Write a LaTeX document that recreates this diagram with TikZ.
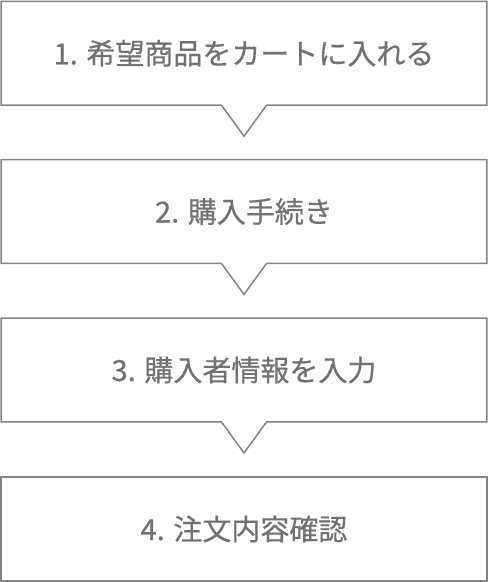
\documentclass[tikz,border=0pt]{standalone}
\usepackage{fontspec}
\newfontfamily\cjk[FakeBold=0.5]{Noto Sans CJK JP}
\definecolor{linegray}{HTML}{858585}
\definecolor{textgray}{HTML}{727272}
\begin{document}
\begin{tikzpicture}[x=1pt,y=-1pt,
  stepbox/.style={minimum width=485.5pt,minimum height=103.5pt,inner sep=0pt,
    font=\cjk\fontsize{29}{34}\selectfont,text=textgray},
  outline/.style={draw=linegray,line width=1.5pt,line join=miter}]
\useasboundingbox (0,0) rectangle (488,582);
\node[stepbox] (b1) at (244,53.25) {1. 希望商品をカートに入れる};
\node[stepbox] (b2) at (244,211.5) {2. 購入手続き};
\node[stepbox] (b3) at (244,370) {3. 購入者情報を入力};
\node[stepbox] (b4) at (244,529) {4. 注文内容確認};
\foreach \b in {b1,b2,b3}{
  \draw[outline] (\b.north west) -- (\b.north east) -- (\b.south east)
    -- ([xshift=22.5pt]\b.south) -- ([yshift=-31pt]\b.south)
    -- ([xshift=-22.5pt]\b.south) -- (\b.south west) -- cycle;
}
\draw[outline] (b4.north west) rectangle (b4.south east);
\end{tikzpicture}
\end{document}
